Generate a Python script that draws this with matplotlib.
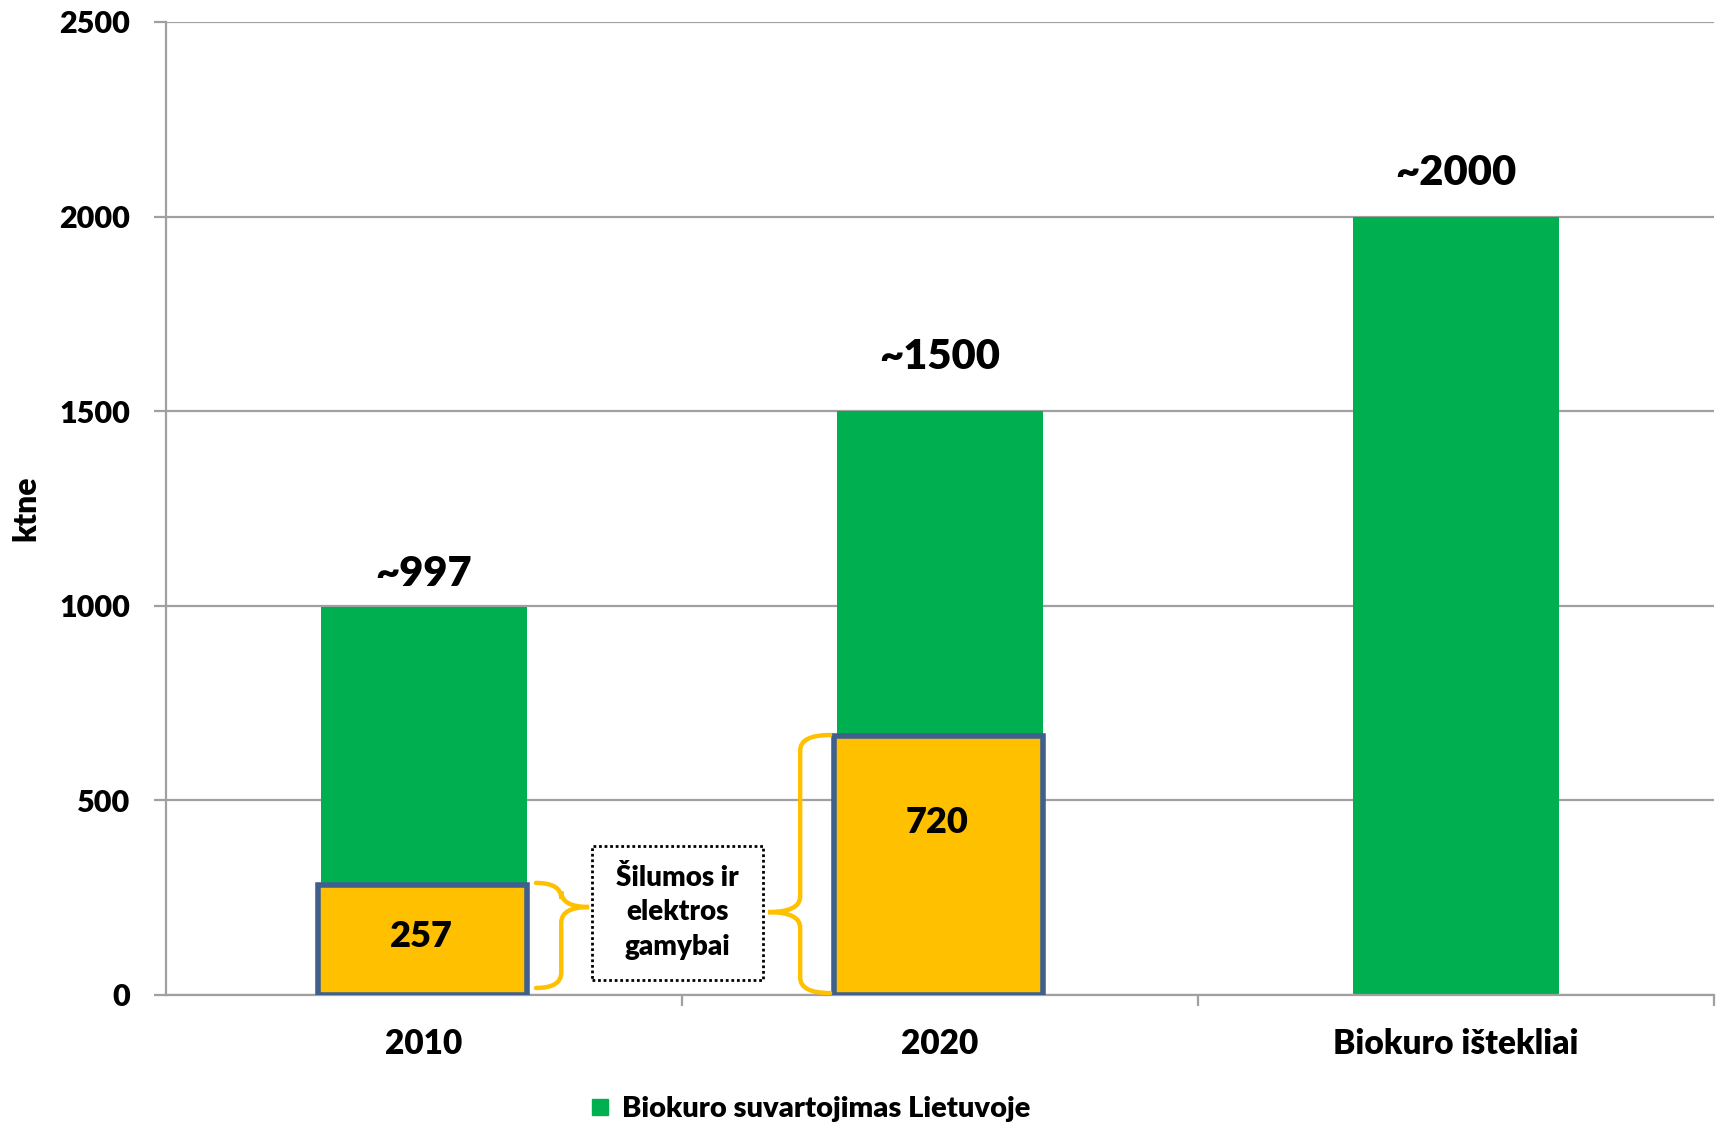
import numpy as np
import matplotlib.pyplot as plt
from matplotlib.patches import Rectangle, PathPatch
from matplotlib.path import Path
from matplotlib.lines import Line2D

plt.rcParams['font.family'] = ['Lato', 'DejaVu Sans']
W = 'heavy'
plt.rcParams['font.weight'] = W

# duomenys
categories = ['2010', '2020', 'Biokuro ištekliai']
consumption = [997, 1500, 2000]
value_labels = ['~997', '~1500', '~2000']
value_label_y = [1082, 1640, 2112]
heat_labels = ['257', '720']
heat_box_top = [282, 666]       # geltonu staciakampiu virsus (kaip nupiesta)
heat_label_y = [150, 442]
yticks = [0, 500, 1000, 1500, 2000, 2500]
legend_label = 'Biokuro suvartojimas Lietuvoje'
note_text = 'Šilumos ir\nelektros\ngamybai'

green = '#00B050'
yellow = '#FFC000'
border = '#3F5F8C'
grid_c = '#A0A0A0'

fig = plt.figure(figsize=(17.21, 11.23), dpi=100)
ax = fig.add_axes([166/1721, 1 - 995/1123, 1548/1721, 973/1123])

x = np.arange(len(categories))
ax.bar(x, consumption, width=0.40, color=green, zorder=2)

ax.set_xlim(-0.5, 2.5)
ax.set_ylim(0, 2500)
ax.set_yticks(yticks)
ax.yaxis.grid(True, color=grid_c, lw=1.6, zorder=0)
for s in ['top', 'right']:
    ax.spines[s].set_visible(False)
for s in ['left', 'bottom']:
    ax.spines[s].set_color(grid_c)
    ax.spines[s].set_linewidth(1.6)
ax.tick_params(axis='y', length=9, width=1.6, color=grid_c, pad=17, labelsize=22)
ax.set_xticks(x)
ax.set_xticklabels(categories)
ax.set_xticks([0.5, 1.5, 2.5], minor=True)
ax.tick_params(axis='x', which='major', length=0, pad=24, labelsize=24)
ax.tick_params(axis='x', which='minor', length=8, width=1.6, color=grid_c)
for t in ax.get_xticklabels() + ax.get_yticklabels():
    t.set_fontweight(W)
ax.set_ylabel('ktne', fontsize=23, fontweight=W)
ax.yaxis.set_label_coords(-0.081, 0.5)

# reiksmes virs stulpeliu
for xi, ly, lab in zip(x, value_label_y, value_labels):
    ax.text(xi, ly, lab, ha='center', va='center', fontsize=30, fontweight=W)

# geltoni staciakampiai silumos ir elektros gamybai
for xi, top, lab, ly in zip(x[:2], heat_box_top, heat_labels, heat_label_y):
    ax.add_patch(Rectangle((xi - 0.205, 0), 0.405, top, facecolor=yellow,
                           edgecolor=border, lw=4, zorder=3))
    ax.text(xi - 0.005, ly, lab, ha='center', va='center', fontsize=26,
            fontweight=W, zorder=4)

# riestiniai skliaustai
def brace(x_end, x_stem, x_tip, y_bot, y_top, y_tip, r=40):
    verts = [(x_end, y_top), (x_stem, y_top), (x_stem, y_top - r),
             (x_stem, y_tip + r), (x_stem, y_tip), (x_tip, y_tip),
             (x_stem, y_tip), (x_stem, y_tip - r),
             (x_stem, y_bot + r), (x_stem, y_bot), (x_end, y_bot)]
    codes = [Path.MOVETO, Path.CURVE3, Path.CURVE3,
             Path.LINETO, Path.CURVE3, Path.CURVE3,
             Path.CURVE3, Path.CURVE3,
             Path.LINETO, Path.CURVE3, Path.CURVE3]
    ax.add_patch(PathPatch(Path(verts, codes), facecolor='none',
                           edgecolor=yellow, lw=3.2, zorder=3, capstyle='round'))

brace(0.217, 0.266, 0.320, 18, 288, 226)
brace(0.787, 0.729, 0.667, 5, 668, 213)

# punktyrinis laukelis
ax.add_patch(Rectangle((0.326, 38), 0.331, 345, facecolor='white',
                       edgecolor='black', lw=2, linestyle=(0, (1, 1)), zorder=3))
ax.text(0.492, 212, note_text, ha='center', va='center', fontsize=20,
        fontweight=W, linespacing=1.42, zorder=4)

handle = Line2D([], [], marker='s', color='none', markerfacecolor=green,
                markeredgecolor=green, markersize=12)
fig.legend([handle], [legend_label], loc='center', bbox_to_anchor=(808/1721, 1 - 1109/1123),
           frameon=False, handletextpad=0.25, handlelength=1.0,
           prop={'weight': W, 'size': 21})

fig.savefig('out.png', dpi=100)
